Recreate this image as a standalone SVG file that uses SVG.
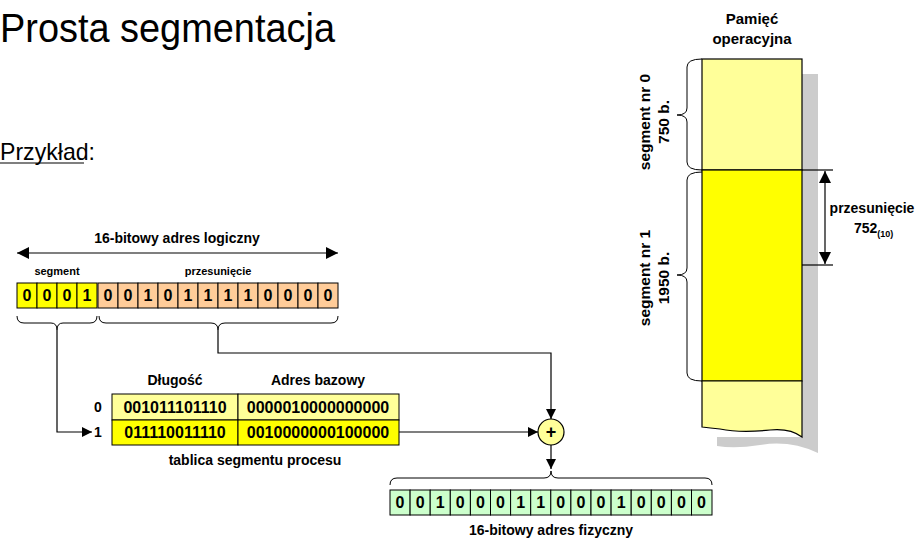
<svg xmlns="http://www.w3.org/2000/svg" width="917" height="541" viewBox="0 0 917 541">
<defs>
<marker id="ah" viewBox="0 0 10 10" refX="10" refY="5" markerWidth="10" markerHeight="10" markerUnits="userSpaceOnUse" orient="auto-start-reverse"><path d="M0,0 L10,5 L0,10 z" fill="#000"/></marker>
<marker id="ahb" viewBox="0 0 10 10" refX="10" refY="5" markerWidth="13" markerHeight="12" markerUnits="userSpaceOnUse" orient="auto-start-reverse"><path d="M0,0 L10,5 L0,10 z" fill="#000"/></marker>
</defs>
<style>
text{font-family:"Liberation Sans",Arial,sans-serif;font-weight:bold;fill:#000}
.t{font-weight:normal}
.bit{font-size:16px;text-anchor:middle}
.lbl{font-size:14px;text-anchor:middle}
.sm{font-size:11px;text-anchor:middle}
.cell{stroke:#000;stroke-width:1}
.ln{fill:none;stroke:#000;stroke-width:1.2}
.br{fill:none;stroke:#000;stroke-width:1}
</style>
<rect width="917" height="541" fill="#fff"/>
<text class="t" x="0" y="42" font-size="40" textLength="335" lengthAdjust="spacingAndGlyphs">Prosta segmentacja</text>
<text class="t" x="0" y="160" font-size="24" textLength="95" lengthAdjust="spacingAndGlyphs">Przykład:</text>
<line x1="0" y1="163" x2="84" y2="163" stroke="#000" stroke-width="1.2"/>

<g id="logical">
<text class="lbl" x="177" y="243">16-bitowy adres logiczny</text>
<line x1="17" y1="253" x2="338" y2="253" stroke="#000" stroke-width="1.2" marker-start="url(#ahb)" marker-end="url(#ahb)"/>
<text class="sm" x="57" y="275">segment</text>
<text class="sm" x="218" y="275">przesunięcie</text>
<g fill="#FFFF00" class="cell">
<rect x="17" y="283" width="20" height="25"/><rect x="37" y="283" width="20" height="25"/><rect x="57" y="283" width="20" height="25"/><rect x="77" y="283" width="20" height="25"/>
</g>
<g fill="#FFCC99" class="cell">
<rect x="98" y="283" width="20" height="25"/><rect x="118" y="283" width="20" height="25"/><rect x="138" y="283" width="20" height="25"/><rect x="158" y="283" width="20" height="25"/><rect x="178" y="283" width="20" height="25"/><rect x="198" y="283" width="20" height="25"/><rect x="218" y="283" width="20" height="25"/><rect x="238" y="283" width="20" height="25"/><rect x="258" y="283" width="20" height="25"/><rect x="278" y="283" width="20" height="25"/><rect x="298" y="283" width="20" height="25"/><rect x="318" y="283" width="20" height="25"/>
</g>
<g class="bit">
<text x="27" y="301">0</text><text x="47" y="301">0</text><text x="67" y="301">0</text><text x="87" y="301">1</text>
<text x="108" y="301">0</text><text x="128" y="301">0</text><text x="148" y="301">1</text><text x="168" y="301">0</text><text x="188" y="301">1</text><text x="208" y="301">1</text><text x="228" y="301">1</text><text x="248" y="301">1</text><text x="268" y="301">0</text><text x="288" y="301">0</text><text x="308" y="301">0</text><text x="328" y="301">0</text>
</g>
<path class="br" d="M17,316 Q17,323 24,323 L51,323 Q57,323 57,330 Q57,323 63,323 L90,323 Q97,323 97,316"/>
<path class="br" d="M99,316 Q99,323 106,323 L211,323 Q218,323 218,330 Q218,323 225,323 L331,323 Q338,323 338,316"/>
</g>

<g id="table">
<text x="175" y="385" font-size="14" text-anchor="middle">Długość</text>
<text x="318" y="385" font-size="14" text-anchor="middle">Adres bazowy</text>
<text x="98" y="412" font-size="14" text-anchor="middle">0</text>
<text x="98" y="437" font-size="14" text-anchor="middle">1</text>
<rect x="112" y="394" width="126" height="26" fill="#FFFF99" class="cell"/>
<rect x="238" y="394" width="161" height="26" fill="#FFFF99" class="cell"/>
<rect x="112" y="420" width="126" height="25" fill="#FFFF00" class="cell"/>
<rect x="238" y="420" width="161" height="25" fill="#FFFF00" class="cell"/>
<text class="bit" x="175" y="413">001011101110</text>
<text class="bit" x="318" y="413">0000010000000000</text>
<text class="bit" x="175" y="438">011110011110</text>
<text class="bit" x="318" y="438">0010000000100000</text>
<text class="lbl" x="255" y="465">tablica segmentu procesu</text>
</g>

<g id="adder">
<circle cx="551" cy="432" r="13" fill="#FFFF99" stroke="#000" stroke-width="1.2"/>
<text x="551" y="438" font-size="18" text-anchor="middle">+</text>
</g>

<g id="physical">
<path class="br" d="M390,485 Q390,478 397,478 L544,478 Q551,478 551,471 Q551,478 558,478 L705,478 Q712,478 712,485"/>
<g fill="#CCFFCC" class="cell">
<rect x="390" y="490" width="20.1" height="25"/><rect x="410.1" y="490" width="20.1" height="25"/><rect x="430.2" y="490" width="20.1" height="25"/><rect x="450.3" y="490" width="20.1" height="25"/><rect x="470.4" y="490" width="20.1" height="25"/><rect x="490.5" y="490" width="20.1" height="25"/><rect x="510.6" y="490" width="20.1" height="25"/><rect x="530.7" y="490" width="20.1" height="25"/><rect x="550.8" y="490" width="20.1" height="25"/><rect x="570.9" y="490" width="20.1" height="25"/><rect x="591" y="490" width="20.1" height="25"/><rect x="611.1" y="490" width="20.1" height="25"/><rect x="631.2" y="490" width="20.1" height="25"/><rect x="651.3" y="490" width="20.1" height="25"/><rect x="671.4" y="490" width="20.1" height="25"/><rect x="691.5" y="490" width="20.5" height="25"/>
</g>
<g class="bit">
<text x="400" y="508">0</text><text x="420.1" y="508">0</text><text x="440.2" y="508">1</text><text x="460.3" y="508">0</text><text x="480.4" y="508">0</text><text x="500.5" y="508">0</text><text x="520.6" y="508">1</text><text x="540.7" y="508">1</text><text x="560.8" y="508">0</text><text x="580.9" y="508">0</text><text x="601" y="508">0</text><text x="621.1" y="508">1</text><text x="641.2" y="508">0</text><text x="661.3" y="508">0</text><text x="681.4" y="508">0</text><text x="701.5" y="508">0</text>
</g>
<text class="lbl" x="551" y="535">16-bitowy adres fizyczny</text>
</g>

<g id="memory">
<text x="752" y="24" font-size="15" text-anchor="middle">Pamięć</text>
<text x="752" y="44" font-size="15" text-anchor="middle">operacyjna</text>
<path d="M802,74 L818,74 L818,453 Q790,440 760,445 Q735,449 717,446 L717,437 L802,437 z" fill="#CCCCCC"/>
<rect x="702" y="59" width="100" height="111" fill="#FFFF99" stroke="#000" stroke-width="1.2"/>
<rect x="702" y="170" width="100" height="211" fill="#FFFF00" stroke="#000" stroke-width="1.2"/>
<path d="M702,381 L802,381 L802,437 Q790,428 770,430 Q740,433 720,429 Q710,428 702,427 z" fill="#FFFF99" stroke="#000" stroke-width="1.2"/>
<path class="br" d="M702,59 Q687,59 687,67 L687,108 Q687,115 677,115 Q687,115 687,122 L687,162 Q687,170 702,170"/>
<path class="br" d="M702,172 Q687,172 687,180 L687,268 Q687,275 677,275 Q687,275 687,282 L687,373 Q687,381 702,381"/>
<text font-size="15.5" text-anchor="middle" transform="translate(650,122) rotate(-90)">segment nr 0</text>
<text font-size="15.5" text-anchor="middle" transform="translate(669,122) rotate(-90)">750 b.</text>
<text font-size="15.5" text-anchor="middle" transform="translate(650,278) rotate(-90)">segment nr 1</text>
<text font-size="15.5" text-anchor="middle" transform="translate(669,278) rotate(-90)">1950 b.</text>
<line x1="802" y1="170" x2="833" y2="170" stroke="#000" stroke-width="1.2"/>
<line x1="802" y1="265" x2="833" y2="265" stroke="#000" stroke-width="1.2"/>
<line x1="825" y1="171" x2="825" y2="264" stroke="#000" stroke-width="1.2" marker-start="url(#ahb)" marker-end="url(#ahb)"/>
<text x="872" y="213" font-size="14" text-anchor="middle">przesunięcie</text>
<text x="854" y="233" font-size="14">752<tspan font-size="9" dy="4">(10)</tspan></text>
</g>

<g id="connectors">
<path class="ln" d="M57,330 L57,432 L92,432" marker-end="url(#ah)"/>
<path class="ln" d="M218,330 L218,353 L551,353 L551,419" marker-end="url(#ah)"/>
<path class="ln" d="M399,432 L538,432" marker-end="url(#ah)"/>
<path class="ln" d="M551,445 L551,469" marker-end="url(#ah)"/>
</g>
</svg>
